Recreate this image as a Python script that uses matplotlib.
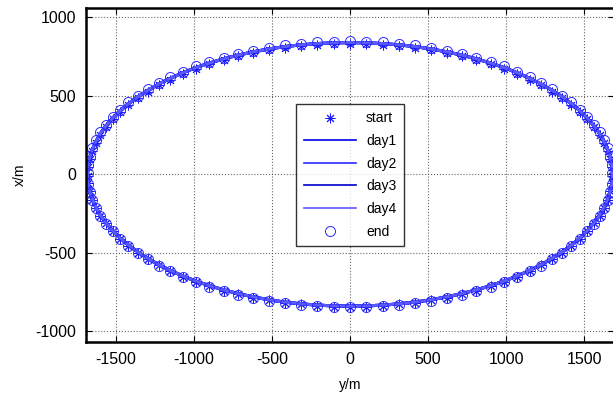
import matplotlib
matplotlib.use("Agg")
import matplotlib.pyplot as plt

plt.rcParams['font.family'] = ['Liberation Sans', 'DejaVu Sans']

# Trajectory points (y/m horizontal, x/m vertical)
track_y = [1680, 1677, 1667, 1650, 1627, 1598, 1562, 1520, 1472, 1418,
           1359, 1294, 1225, 1150, 1071, 987, 900, 809, 715, 618,
           519, 418, 315, 211, 105, 0, -105, -211, -315, -418,
           -519, -618, -715, -809, -900, -987, -1071, -1150, -1225, -1294,
           -1359, -1418, -1472, -1520, -1562, -1598, -1627, -1650, -1667, -1677,
           -1680, -1677, -1667, -1650, -1627, -1598, -1562, -1520, -1472, -1418,
           -1359, -1294, -1225, -1150, -1071, -987, -900, -809, -715, -618,
           -519, -418, -315, -211, -105, 0, 105, 211, 315, 418,
           519, 618, 715, 809, 900, 987, 1071, 1150, 1225, 1294,
           1359, 1418, 1472, 1520, 1562, 1598, 1627, 1650, 1667, 1677, 1680]
track_x = [0, 53, 105, 157, 209, 260, 309, 358, 405, 450,
           494, 535, 575, 612, 647, 680, 709, 736, 760, 781,
           799, 814, 825, 833, 838, 840, 838, 833, 825, 814,
           799, 781, 760, 736, 709, 680, 647, 612, 575, 535,
           494, 450, 405, 358, 309, 260, 209, 157, 105, 53,
           0, -53, -105, -157, -209, -260, -309, -358, -405, -450,
           -494, -535, -575, -612, -647, -680, -709, -736, -760, -781,
           -799, -814, -825, -833, -838, -840, -838, -833, -825, -814,
           -799, -781, -760, -736, -709, -680, -647, -612, -575, -535,
           -494, -450, -405, -358, -309, -260, -209, -157, -105, -53, 0]

# start / end marker positions (slightly scattered around the track)
start_y = track_y[:-1]
start_x = [v - 8 if v >= 0 else v - 4 for v in track_x[:-1]]
end_y = track_y[:-1]
end_x = [v + 8 if v >= 0 else v - 6 for v in track_x[:-1]]

day_names = ['day1', 'day2', 'day3', 'day4']
day_colors = ['#0000e6', '#2a2aff', '#0000cc', '#5a5aff']

fig = plt.figure(figsize=(6.13, 3.94), dpi=100)
ax = fig.add_axes([0.1403, 0.132, 0.8613, 0.8477])

ax.plot(start_y, start_x, linestyle='none', marker=(8, 2, 0), markersize=7,
        color='#1a1aff', markeredgewidth=0.7, label='start')
for name, col in zip(day_names, day_colors):
    ax.plot(track_y, track_x, color=col, linewidth=2.2, label=name)
ax.plot(end_y, end_x, linestyle='none', marker='o', markersize=7.2,
        markerfacecolor='none', markeredgecolor='#2a2aff', markeredgewidth=0.7,
        label='end')

ax.set_xlim(-1690, 1690)
ax.set_ylim(-1068, 1060)
ax.set_xticks([-1500, -1000, -500, 0, 500, 1000, 1500])
ax.set_yticks([-1000, -500, 0, 500, 1000])
ax.set_xticklabels(['-1500', '-1000', '-500', '0', '500', '1000', '1500'])
ax.set_yticklabels(['-1000', '-500', '0', '500', '1000'])
ax.tick_params(direction='in', length=4, width=0.8, top=True, right=True,
               labelsize=11.5, pad=7, colors='black')
ax.grid(True, linestyle=':', color='#666666', linewidth=0.8)
for s in ax.spines.values():
    s.set_linewidth(1.8)
ax.set_xlabel('y/m', fontsize=10, labelpad=8)
ax.set_ylabel('x/m', fontsize=10, labelpad=6)

leg = ax.legend(loc='center', fontsize=10, frameon=True, fancybox=False,
                edgecolor='black', handlelength=3.8, labelspacing=0.62,
                borderpad=0.55, handletextpad=0.7, borderaxespad=0)
leg.get_frame().set_linewidth(1.0)
for ln in leg.get_lines():
    if ln.get_label() in day_names:
        ln.set_linewidth(1.2)

fig.savefig('out.png', dpi=100)
